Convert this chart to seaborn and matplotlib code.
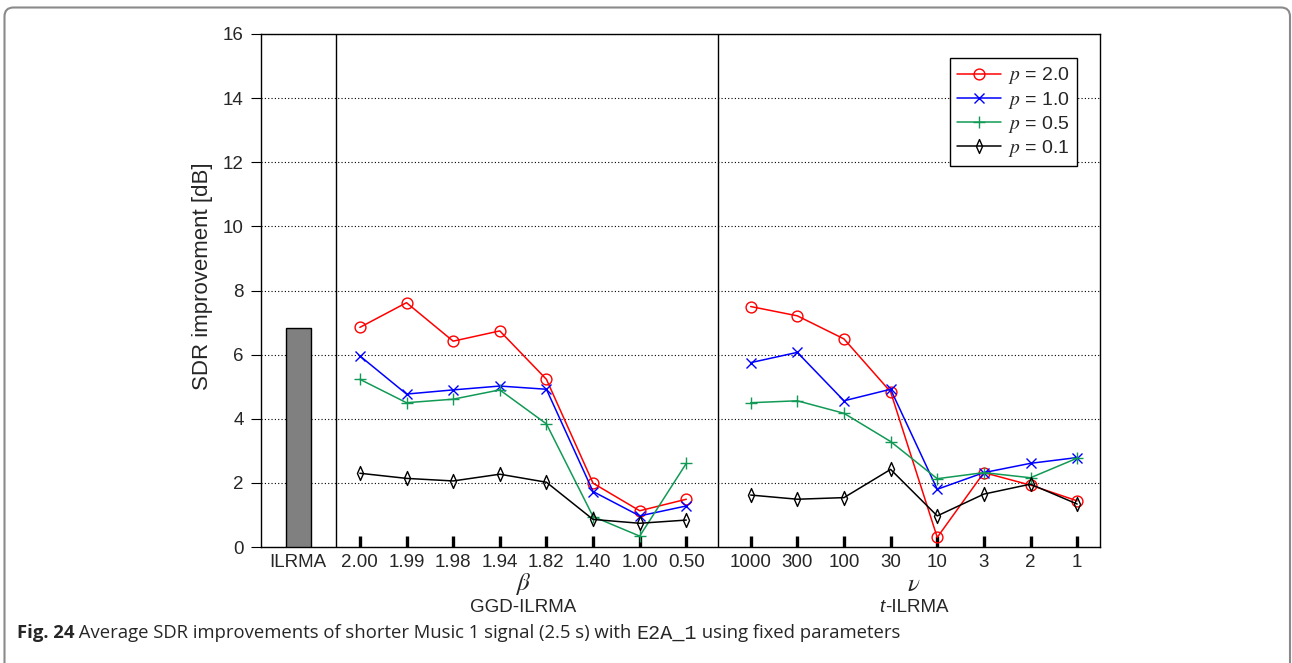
import numpy as np
import pandas as pd
import matplotlib
matplotlib.use("Agg")
import matplotlib.pyplot as plt
import seaborn as sns
from matplotlib.patches import FancyBboxPatch
from matplotlib.path import Path
from matplotlib.transforms import IdentityTransform, blended_transform_factory

# ---- data -------------------------------------------------------------
beta_labels = ["2.00", "1.99", "1.98", "1.94", "1.82", "1.40", "1.00", "0.50"]
nu_labels = ["1000", "300", "100", "30", "10", "3", "2", "1"]
p_labels = ["2.0", "1.0", "0.5", "0.1"]

ilrma_sdr = 6.82

ggd_p20 = [6.85, 7.62, 6.42, 6.74, 5.23, 1.99, 1.13, 1.49]
ggd_p10 = [5.96, 4.77, 4.90, 5.02, 4.92, 1.73, 0.97, 1.28]
ggd_p05 = [5.23, 4.50, 4.61, 4.90, 3.84, 0.95, 0.34, 2.61]
ggd_p01 = [2.30, 2.14, 2.06, 2.27, 2.02, 0.86, 0.74, 0.84]

t_p20 = [7.50, 7.21, 6.49, 4.84, 0.30, 2.32, 1.93, 1.44]
t_p10 = [5.75, 6.07, 4.56, 4.92, 1.80, 2.32, 2.61, 2.79]
t_p05 = [4.50, 4.56, 4.17, 3.29, 2.13, 2.32, 2.16, 2.77]
t_p01 = [1.62, 1.49, 1.54, 2.42, 0.97, 1.65, 1.96, 1.34]

# ---- style ------------------------------------------------------------
sns.set_style("white")
plt.rcParams["font.family"] = ["Liberation Sans", "DejaVu Sans"]
plt.rcParams["mathtext.fontset"] = "stix"

FS = 13.5

# positions of the three groups along the x axis
ilrma_x = 0.0
ggd_x = 1.32 + np.arange(len(beta_labels))
t_x = 9.70 + np.arange(len(nu_labels))
dividers = [0.80, 9.00]

thin_diamond = Path([(0, 1), (0.44, 0), (0, -1), (-0.44, 0), (0, 1)],
                    [Path.MOVETO, Path.LINETO, Path.LINETO, Path.LINETO, Path.CLOSEPOLY])

series = [
    dict(p=p_labels[0], ggd=ggd_p20, t=t_p20, color="#ff0000", marker="o", ms=7.8, open=True),
    dict(p=p_labels[1], ggd=ggd_p10, t=t_p10, color="#0000ff", marker="x", ms=7.5, open=False),
    dict(p=p_labels[2], ggd=ggd_p05, t=t_p05, color="#119a55", marker="+", ms=8.5, open=False),
    dict(p=p_labels[3], ggd=ggd_p01, t=t_p01, color="#000000", marker=thin_diamond, ms=10, open=True),
]

fig = plt.figure(figsize=(12.92, 6.63), dpi=100)
ax = fig.add_axes([261 / 1292, 1 - 547 / 663, (1100 - 261) / 1292, (547 - 34) / 663])

# ILRMA reference bar
ax.bar([ilrma_x], [ilrma_sdr], width=0.54, color="#808080", edgecolor="black",
       linewidth=1.0, zorder=3)

# group separators
for xd in dividers:
    ax.axvline(xd, color="black", lw=1.0, zorder=2)

for s in series:
    kw = dict(color=s["color"], marker=s["marker"], markersize=s["ms"],
              linewidth=1.1, markeredgewidth=1.0, markeredgecolor=s["color"],
              ax=ax, zorder=4)
    if s["open"]:
        kw["markerfacecolor"] = "none"
    label = f"$p$ = {s['p']}"
    df_g = pd.DataFrame({"x": ggd_x, "y": s["ggd"]})
    df_t = pd.DataFrame({"x": t_x, "y": s["t"]})
    sns.lineplot(data=df_g, x="x", y="y", label=label, **kw)
    sns.lineplot(data=df_t, x="x", y="y", legend=False, **kw)

# ---- axes -------------------------------------------------------------
ax.set_xlim(-0.80, 17.19)
ax.set_ylim(0, 16)
ax.set_yticks(np.arange(0, 17, 2))
ax.yaxis.grid(True, color="black", linestyle=(0, (1, 2)), linewidth=0.8)
ax.xaxis.grid(False)
ax.set_axisbelow(True)

xticks = np.concatenate([[ilrma_x], ggd_x, t_x])
xlabels = ["ILRMA"] + beta_labels + nu_labels
ax.set_xticks(xticks)
ax.set_xticklabels(xlabels)
ax.tick_params(axis="x", direction="in", length=8, width=2.4, color="black",
               labelsize=FS, pad=5, bottom=True, top=False)
ax.xaxis.get_major_ticks()[0].tick1line.set_visible(False)
ax.tick_params(axis="y", direction="out", length=7.5, width=0.8, color="black",
               labelsize=FS, pad=5, left=True, right=False)

for sp in ax.spines.values():
    sp.set_color("black")
    sp.set_linewidth(1.0)

ax.set_xlabel("")
ax.set_ylabel("SDR improvement [dB]", fontsize=16)
ax.yaxis.set_label_coords(-0.0575, 0.527)

# group captions under the axis
tr = blended_transform_factory(ax.transData, ax.transAxes)
gc = (ggd_x[0] + ggd_x[-1]) / 2
tc = (t_x[0] + t_x[-1]) / 2
ax.text(gc, -0.072, r"$\beta$", transform=tr, ha="center", va="center", fontsize=18)
ax.text(gc, -0.117, "GGD-ILRMA", transform=tr, ha="center", va="center", fontsize=FS)
ax.text(tc, -0.072, r"$\nu$", transform=tr, ha="center", va="center", fontsize=18)

renderer = fig.canvas.get_renderer()
# "t-ILRMA" with an italic sans "t", centred as one word
t_it = ax.text(0, 0, "t", fontsize=FS, style="italic")
t_rest = ax.text(0, 0, "-ILRMA", fontsize=FS)
w_it = t_it.get_window_extent(renderer=renderer).width
w_rest = t_rest.get_window_extent(renderer=renderer).width
t_it.remove()
t_rest.remove()
cx_px = ax.transData.transform((tc, 0))[0]
y_ax = -0.117
y_px = ax.transAxes.transform((0, y_ax))[1]
left_px = cx_px - (w_it + w_rest) / 2
fig.text(left_px / 1292, y_px / 663, "t", fontsize=FS, style="italic", va="center", ha="left")
fig.text((left_px + w_it) / 1292, y_px / 663, "-ILRMA", fontsize=FS, va="center", ha="left")

leg = ax.legend(loc="upper right", bbox_to_anchor=(0.973, 0.953), fontsize=14,
                frameon=True, fancybox=False, edgecolor="black", framealpha=1,
                handlelength=2.25, handletextpad=0.35, labelspacing=0.16,
                borderpad=0.38, borderaxespad=0)
leg.get_frame().set_linewidth(1.0)

# ---- outer frame ------------------------------------------------------
frame = FancyBboxPatch((4.5, -30), 1290 - 4.5, 663 - 7.5 + 30,
                       boxstyle="round,pad=0,rounding_size=9",
                       transform=IdentityTransform(), facecolor="none",
                       edgecolor="#8a8a8a", linewidth=1.5)
fig.add_artist(frame)

# ---- figure caption ---------------------------------------------------
cap_y = 1 - 633 / 663
CAP = 13.3
parts = [
    ("Fig. 24", dict(family=["Open Sans", "DejaVu Sans"], weight="bold", size=CAP)),
    (" Average SDR improvements of shorter Music 1 signal (2.5 s) with ",
     dict(family=["Open Sans", "DejaVu Sans"], size=CAP)),
    ("E2A_1", dict(family=["Liberation Mono", "DejaVu Sans Mono"], size=14.5)),
    (" using fixed parameters", dict(family=["Open Sans", "DejaVu Sans"], size=CAP)),
]
x_px = 17.0
for txt, props in parts:
    t = fig.text(x_px / 1292, cap_y, txt, ha="left", va="center", **props)
    bb = t.get_window_extent(renderer=renderer)
    x_px += bb.width

fig.savefig("out.png", dpi=100)
